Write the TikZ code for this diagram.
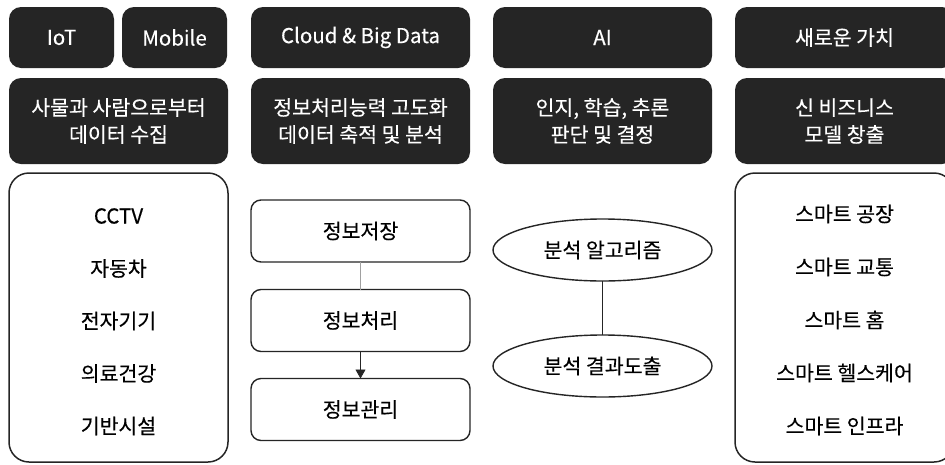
\documentclass[tikz,border=0pt]{standalone}
\usepackage{fontspec}
\setmainfont{Noto Sans CJK KR}[FakeBold=0.3]
\usetikzlibrary{arrows.meta,shapes.geometric}
\definecolor{boxdark}{HTML}{252525}
\definecolor{edgegray}{HTML}{A0A0A0}
\tikzset{
  base/.style={inner sep=0pt, outer sep=0pt, align=center,
    font=\fontsize{20.5}{27}\selectfont},
  darkbox/.style={base, fill=boxdark, text=white, rounded corners=12pt,
    minimum height=61pt},
  headbox/.style={darkbox, minimum width=219pt},
  descbox/.style={darkbox, minimum width=219pt, minimum height=86pt},
  listbox/.style={base, draw=boxdark, line width=1.5pt, rounded corners=20pt,
    minimum width=219pt, minimum height=289pt},
  stagebox/.style={base, draw=boxdark, line width=1.4pt, rounded corners=10pt,
    minimum width=219pt, minimum height=62pt},
  oval/.style={base, ellipse, draw=boxdark, line width=1.4pt,
    minimum width=219pt, minimum height=62pt},
  item/.style={base, text=black},
}
\begin{document}
\begin{tikzpicture}[x=1pt, y=-1pt]
\clip (0,0) rectangle (945,464);
\fill[white] (0,0) rectangle (945,464);

% header row
\node[darkbox, minimum width=105pt] (iot) at (61.5,37.5) {IoT};
\node[darkbox, minimum width=105pt] (mobile) at (174.5,37.5) {Mobile};
\node[headbox] (cloud) at (360.5,37.5) {Cloud \& Big Data};
\node[headbox] (ai) at (602.5,37.5) {AI};
\node[headbox] (value) at (844.5,37.5) {새로운 가치};

% description row
\node[descbox] (d1) at (118.5,121) {사물과 사람으로부터\\데이터 수집};
\node[descbox] (d2) at (360.5,121) {정보처리능력 고도화\\데이터 축적 및 분석};
\node[descbox] (d3) at (602.5,121) {인지, 학습, 추론\\판단 및 결정};
\node[descbox] (d4) at (844.5,121) {신 비즈니스\\모델 창출};

% data sources
\node[listbox] (src) at (118.5,317.5) {};
\node[item] (s1) at (118.5,216) {CCTV};
\node[item] (s2) at (118.5,268.5) {자동차};
\node[item] (s3) at (118.5,321) {전자기기};
\node[item] (s4) at (118.5,373.5) {의료건강};
\node[item] (s5) at (118.5,426) {기반시설};

% data pipeline
\node[stagebox] (store) at (360.5,231) {정보저장};
\node[stagebox] (proc) at (360.5,320.5) {정보처리};
\node[stagebox] (manage) at (360.5,409.5) {정보관리};
\draw[edgegray, line width=0.8pt] (store) -- (proc);
\draw[boxdark, line width=0.8pt, -{Triangle[width=10pt,length=9pt]}] (proc) -- (manage);

% analysis
\node[oval] (algo) at (602.5,250) {분석 알고리즘};
\node[oval] (result) at (602.5,366) {분석 결과도출};
\draw[boxdark, line width=0.8pt] (algo) -- (result);

% services
\node[listbox] (svc) at (844.5,317.5) {};
\node[item] (v1) at (844.5,214) {스마트 공장};
\node[item] (v2) at (844.5,267) {스마트 교통};
\node[item] (v3) at (844.5,320) {스마트 홈};
\node[item] (v4) at (844.5,373) {스마트 헬스케어};
\node[item] (v5) at (844.5,426) {스마트 인프라};
\end{tikzpicture}
\end{document}
